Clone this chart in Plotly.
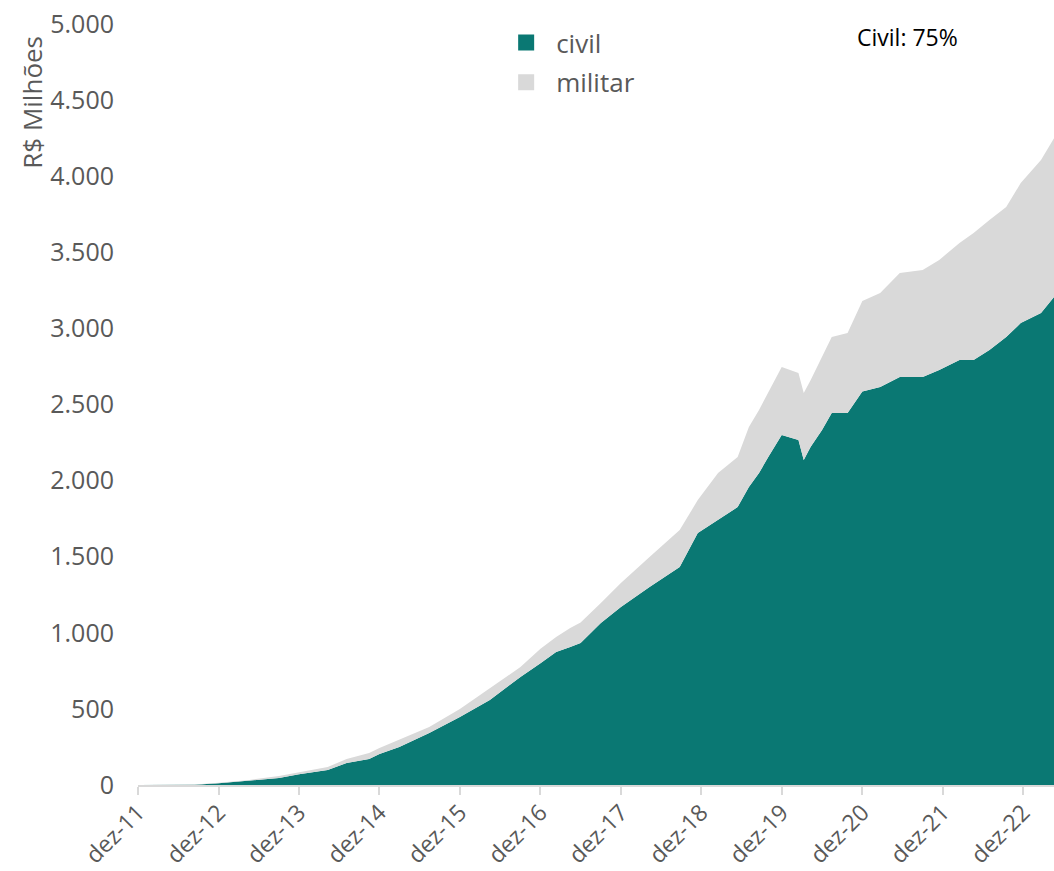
import plotly.graph_objects as go

# ---- data ----
dates = ["2011-12-01", "2012-07-15", "2012-08-15", "2012-12-01", "2013-04-20", "2013-09-01",
         "2013-12-01", "2014-04-10", "2014-07-05", "2014-10-15", "2014-12-01", "2015-03-01",
         "2015-07-15", "2015-12-01", "2016-04-15", "2016-09-01", "2016-12-01", "2017-02-10",
         "2017-04-15", "2017-06-01", "2017-09-01", "2017-12-01", "2018-04-10", "2018-08-25",
         "2018-11-15", "2019-02-15", "2019-05-15", "2019-07-05", "2019-08-20", "2019-10-01",
         "2019-12-01", "2020-02-15", "2020-03-10", "2020-04-10", "2020-06-01", "2020-07-15",
         "2020-09-25", "2020-12-01", "2021-02-20", "2021-05-20", "2021-09-01", "2021-11-15",
         "2022-02-15", "2022-04-20", "2022-07-01", "2022-09-15", "2022-11-20", "2023-02-20",
         "2023-04-20"]

civil = [0, 0, 2, 12, 27, 46, 70, 99, 145, 171,
         204, 250, 342, 447, 558, 710, 800, 874, 907, 933,
         1064, 1170, 1301, 1432, 1656, 1745, 1826, 1958, 2050, 2155,
         2300, 2267, 2135, 2220, 2332, 2444, 2444, 2585, 2615, 2680,
         2680, 2727, 2792, 2792, 2858, 2943, 3035, 3101, 3206]

militar = [0, 0, 1, 3, 6, 13, 15, 19, 26, 39,
           39, 46, 39, 53, 79, 65, 95, 98, 124, 135,
           132, 157, 197, 243, 216, 305, 329, 394, 414, 420,
           446, 440, 440, 440, 480, 499, 526, 595, 617, 684,
           704, 723, 769, 835, 854, 854, 920, 1005, 1044]

x_tick_dates = ["2011-12-01", "2012-12-01", "2013-12-01", "2014-12-01", "2015-12-01",
                "2016-12-01", "2017-12-01", "2018-12-01", "2019-12-01", "2020-12-01",
                "2021-12-01", "2022-12-01"]
x_tick_text = ["dez-11", "dez-12", "dez-13", "dez-14", "dez-15", "dez-16", "dez-17",
               "dez-18", "dez-19", "dez-20", "dez-21", "dez-22"]
y_tick_vals = [0, 500, 1000, 1500, 2000, 2500, 3000, 3500, 4000, 4500, 5000]
y_tick_text = ["0", "500", "1.000", "1.500", "2.000", "2.500", "3.000", "3.500",
               "4.000", "4.500", "5.000"]

TEAL = "#0A7873"
GRAY = "#D9D9D9"
TXT = "#595959"
FONT = "Open Sans"

fig = go.Figure()
fig.add_trace(go.Scatter(x=dates, y=civil, name="civil", stackgroup="one",
                         line=dict(width=0, color=TEAL), fillcolor=TEAL,
                         showlegend=False, hoverinfo="skip"))
fig.add_trace(go.Scatter(x=dates, y=militar, name="militar", stackgroup="one",
                         line=dict(width=0, color=GRAY), fillcolor=GRAY,
                         showlegend=False, hoverinfo="skip"))
# legend entries (square markers)
fig.add_trace(go.Scatter(x=[None], y=[None], mode="markers", name="civil",
                         legendgroup="g1",
                         marker=dict(symbol="square", size=17, color=TEAL)))
fig.add_trace(go.Scatter(x=[None], y=[None], mode="markers", name="militar",
                         legendgroup="g2",
                         marker=dict(symbol="square", size=17, color=GRAY)))

fig.update_layout(
    width=1054, height=871,
    margin=dict(l=138, r=0, t=24, b=86, autoexpand=False),
    paper_bgcolor="white", plot_bgcolor="white",
    font=dict(family=FONT, color=TXT, size=25),
    showlegend=True,
    legend=dict(x=0.391, y=1.0066, xanchor="left", yanchor="top",
                bgcolor="rgba(0,0,0,0)", font=dict(size=26, color=TXT),
                traceorder="grouped", tracegroupgap=3, itemwidth=50,
                itemsizing="trace"),
    xaxis=dict(type="date", range=["2011-12-01", "2023-04-20"], automargin=False,
               tickvals=x_tick_dates, ticktext=x_tick_text, tickangle=-45,
               showgrid=False, zeroline=False,
               showline=True, linecolor=GRAY, linewidth=2,
               ticks="outside", ticklen=8, tickcolor=GRAY, tickwidth=2,
               ticklabelstandoff=-5,
               tickfont=dict(size=23, color=TXT)),
    yaxis=dict(range=[0, 5000], tickvals=y_tick_vals, ticktext=y_tick_text,
               automargin=False,
               showgrid=False, zeroline=False, showline=False, ticks="",
               ticklabelstandoff=23, tickfont=dict(size=25, color=TXT)),
    annotations=[
        dict(text="R$ Milhões", textangle=-90, xref="paper", yref="paper",
             x=-0.116, y=0.8975, xanchor="center", yanchor="middle",
             showarrow=False, font=dict(size=26, color=TXT, family=FONT)),
        dict(text="Civil: 75%", xref="paper", yref="paper",
             x=0.783, y=0.983, xanchor="left", yanchor="middle",
             showarrow=False, font=dict(size=23, color="black", family=FONT)),
    ],
)

fig.write_html("out.html", config={"displayModeBar": False},
               post_script="document.body.style.margin='0px';document.body.style.overflow='hidden';")
